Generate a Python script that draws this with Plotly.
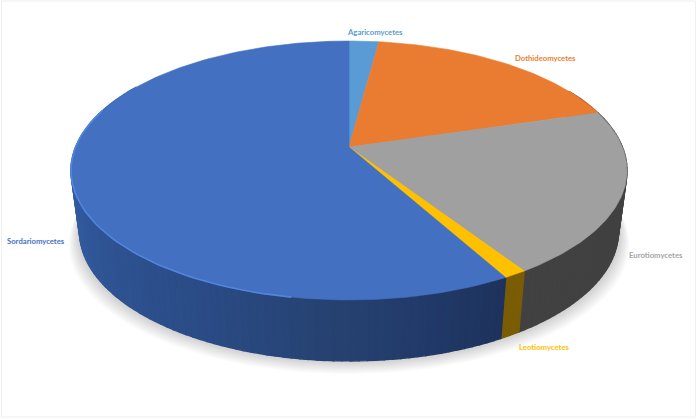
import numpy as np
import plotly.graph_objects as go

# Data (share of each class, clockwise from 12 o'clock)
labels = ["Agaricomycetes", "Dothideomycetes", "Eurotiomycetes", "Leotiomycetes", "Sordariomycetes"]
values = [2.06, 18.3, 20.5, 1.14, 58.0]

top_colors = ["#5B9BD5", "#E97C30", "#A0A0A0", "#FFC000", "#4370C0"]
label_colors = ["#5B9BD5", "#ED7D31", "#A5A5A5", "#FFC000", "#4472C4"]
side_colors = ["#3A6F9F", "#A8561F", "#414141", "#7A5C05", None]

# Blue side gets darker towards the front right
blue_angles = [150, 170, 180, 205, 235, 270, 300]
blue_stops = [(29, 50, 92), (35, 60, 108), (38, 65, 111), (42, 75, 133), (48, 85, 149), (52, 99, 171), (58, 106, 184)]

label_x = [345, 513, 627, 517, 5]
label_y = [32, 58, 255, 347, 241]

# Fake 3D: circle seen in perspective
CX = 349
K = 0.1813
H = 125.2


def project(ang, w, y0):
    a = np.radians(ang)
    X, Y = np.sin(a), np.cos(a)
    d = 1 + K * Y
    return CX + w * X / d, y0 - H * Y / d


def top(ang):
    return project(ang, 273.4, 147)


def bottom(ang):
    return project(ang, 265, 208)


def blue_side(ang):
    rgb = [np.interp(ang, blue_angles, [s[i] for s in blue_stops]) for i in range(3)]
    return "rgb(%d,%d,%d)" % tuple(rgb)


def poly(fig, x, y, color, opacity=1.0, edge=0.6):
    fig.add_trace(go.Scatter(
        x=x, y=y, mode="lines", fill="toself", fillcolor=color,
        line=dict(color=color, width=edge),
        opacity=opacity, hoverinfo="skip", showlegend=False,
    ))


fig = go.Figure()

# Soft shadow under the pie
full = np.linspace(0, 360, 181)
for i in range(12, 0, -1):
    sx, sy = project(full, 265 + i * 0.9, 208 + i * 1.1)
    poly(fig, sx, sy, "#000000", opacity=0.015, edge=0)

# Slice limits from the values
edges = np.concatenate([[0], np.cumsum(values) / np.sum(values) * 360])

# Side wall, strip by strip, back to front
strips = []
for i in range(len(values)):
    a0, a1 = edges[i], edges[i + 1]
    n = max(1, int((a1 - a0) / 1.5))
    ticks = np.linspace(a0, a1, n + 1)
    for j in range(n):
        if 60 < ticks[j] < 300:
            strips.append((ticks[j], ticks[j + 1], i))
strips.sort(key=lambda s: -abs((s[0] + s[1]) / 2 - 180))
for a0, a1, i in strips:
    tx0, ty0 = top(a0)
    tx1, ty1 = top(a1)
    bx1, by1 = bottom(a1)
    bx0, by0 = bottom(a0)
    col = side_colors[i] or blue_side((a0 + a1) / 2)
    poly(fig, [tx0, tx1, bx1, bx0, tx0], [ty0, ty1, by1, by0, ty0], col, edge=1.4)

# Top face
for i in range(len(values)):
    arc = np.linspace(edges[i], edges[i + 1], max(3, int(edges[i + 1] - edges[i]) + 2))
    ax, ay = top(arc)
    poly(fig, [CX] + list(ax) + [CX], [147] + list(ay) + [147], top_colors[i])

# Bevel highlight on the front left rim
rim = np.linspace(190, 288, 60)
rx, ry = top(rim)
fig.add_trace(go.Scatter(x=rx, y=ry, mode="lines", line=dict(color="#5086E0", width=1.6),
                         hoverinfo="skip", showlegend=False))

fig.update_layout(
    width=698, height=419,
    margin=dict(l=0, r=0, t=0, b=0),
    paper_bgcolor="white", plot_bgcolor="white",
    showlegend=False,
    xaxis=dict(range=[0, 698], visible=False, fixedrange=True),
    yaxis=dict(range=[419, 0], visible=False, fixedrange=True),
    shapes=[dict(type="rect", x0=1.5, x1=695.5, y0=1, y1=417, line=dict(color="#EEEEEE", width=1), layer="below")],
)

for name, c, x, y in zip(labels, label_colors, label_x, label_y):
    fig.add_annotation(x=x, y=y, text=name, showarrow=False, xanchor="left", yanchor="middle",
                       font=dict(family="Lato", size=7.7, color=c, weight=700))

# page margin would push the chart 8px off
fig.write_html("out.html", config=dict(displayModeBar=False),
               post_script="document.body.style.margin='0';document.documentElement.style.overflow='hidden';")
